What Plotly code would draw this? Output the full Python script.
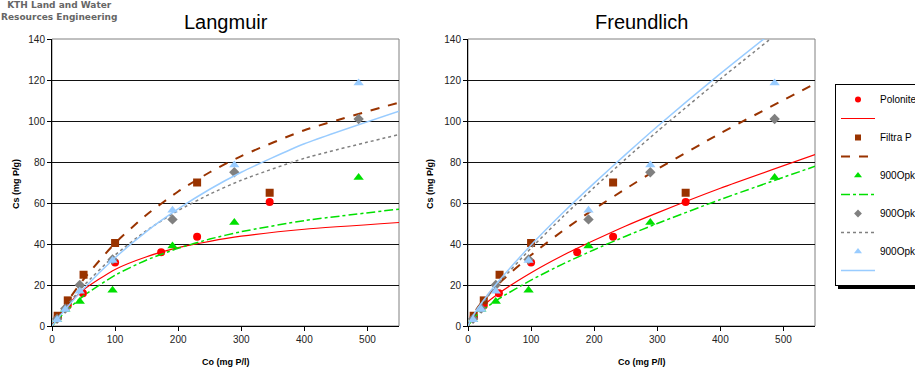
import plotly.graph_objects as go

# ---------------- data ----------------
co_pol = [9, 25, 49, 100, 173, 230, 345]
cs_pol = [4.5, 10, 16, 31, 36, 43.5, 60.5]
co_fil = [9, 25, 50, 100, 230, 345]
cs_fil = [5, 12.5, 25, 40.5, 70, 65]
co_opk = [8, 21, 44, 96, 191, 289, 486]
cs_opk_a = [3, 8, 12, 17.5, 39, 50.5, 72.5]
cs_opk_b = [3.5, 8.5, 20, 32.5, 52, 75, 101]
cs_opk_c = [3, 8, 17, 32, 56.5, 78.5, 118.5]

c_fit = [0, 10, 25, 50, 100, 150, 200, 250, 300, 400, 550]
lang_pol = [0, 4.6, 10.3, 17.7, 27.6, 33.8, 38.2, 41.3, 43.8, 47.2, 50.5]
lang_fil = [0, 5.1, 12.2, 22.8, 40.4, 54.3, 65.6, 75.0, 82.9, 95.5, 109.0]
lang_opk_a = [0, 3.4, 8.1, 14.7, 24.8, 32.2, 37.9, 42.4, 46.0, 51.4, 57.0]
lang_opk_b = [0, 4.4, 10.5, 19.6, 34.6, 46.6, 56.3, 64.3, 71.1, 81.8, 93.4]
lang_opk_c = [0, 3.9, 9.5, 18.2, 33.3, 46.2, 57.1, 66.7, 75.0, 88.9, 104.8]

freu_pol = [0, 5.4, 10.1, 16.2, 26.0, 34.4, 41.8, 48.8, 55.2, 67.2, 83.6]
freu_fil = [0, 6.6, 12.8, 21.0, 34.6, 46.4, 57.1, 66.9, 76.5, 94.0, 118.2]
freu_opk_a = [0, 4.2, 8.2, 13.5, 22.4, 30.2, 37.2, 43.8, 50.0, 61.7, 77.9]
freu_opk_b = [0, 5.6, 11.9, 21.3, 38.0, 53.2, 67.6, 81.5, 94.9, 120.5, 157.3]
freu_opk_c = [0, 6.0, 12.7, 22.4, 39.5, 55.1, 69.7, 83.7, 97.3, 123.1, 159.8]

names = ["Polonite", "Filtra P", "900Opk", "900Opk", "900Opk"]
colors = ["#FF0000", "#993300", "#00E000", "#808080", "#99CCFF"]
symbols = ["circle", "square", "triangle-up", "diamond", "triangle-up"]
msizes = [8, 8, 9, 8, 9]
legsizes = [6, 6, 7, 6, 7]
dashes = ["solid", "dash", "dashdot", "dot", "solid"]
lwidths = [1.2, 2, 1.5, 1.5, 1.5]

points = [(co_pol, cs_pol), (co_fil, cs_fil), (co_opk, cs_opk_a), (co_opk, cs_opk_b), (co_opk, cs_opk_c)]
lang = [lang_pol, lang_fil, lang_opk_a, lang_opk_b, lang_opk_c]
freu = [freu_pol, freu_fil, freu_opk_a, freu_opk_b, freu_opk_c]

FONT = "Liberation Sans, Arial, sans-serif"
W, H = 915, 372
PAD = "\u00a0" * 14  # legend box runs past the right edge of the picture

fig = go.Figure()
for ax, fits in (("", lang), ("2", freu)):
    for i in range(5):
        xs, ys = points[i]
        fig.add_trace(go.Scatter(
            x=xs, y=ys, mode="markers", name=names[i],
            marker=dict(symbol=symbols[i], size=msizes[i], color=colors[i]),
            xaxis="x" + ax, yaxis="y" + ax, showlegend=False))
        fig.add_trace(go.Scatter(
            x=c_fit, y=fits[i], mode="lines", name="",
            line=dict(color=colors[i], dash=dashes[i], width=lwidths[i], shape="spline", smoothing=0.6),
            xaxis="x" + ax, yaxis="y" + ax, showlegend=False))

# legend entries (empty traces, smaller symbols as in the reference legend)
for i in range(5):
    fig.add_trace(go.Scatter(x=[None], y=[None], mode="markers", name=names[i] + PAD,
                             marker=dict(symbol=symbols[i], size=legsizes[i], color=colors[i]),
                             showlegend=True, legendrank=2 * i + 1))
    fig.add_trace(go.Scatter(x=[None], y=[None], mode="lines", name="",
                             line=dict(color=colors[i], dash=dashes[i], width=lwidths[i]),
                             showlegend=True, legendrank=2 * i + 2))

def px_x(p):
    return p / W

def px_y(p):
    return (H - p) / H

ydom = [px_y(326), px_y(39)]
xdom1 = [px_x(52), px_x(399)]
xdom2 = [px_x(468), px_x(815)]

axis_common = dict(showline=True, linecolor="black", linewidth=1, ticks="outside",
                   ticklen=4, tickcolor="black", tickfont=dict(family=FONT, size=10, color="#222"),
                   zeroline=False)
xcommon = dict(axis_common, range=[0, 550], tickvals=[0, 100, 200, 300, 400, 500], showgrid=False)
ycommon = dict(axis_common, range=[0, 140], tickvals=[0, 20, 40, 60, 80, 100, 120, 140],
               showgrid=True, gridcolor="#111", gridwidth=1)

LEG_TOP = 84
LEG_H = 202

fig.update_layout(
    width=W, height=H,
    margin=dict(l=0, r=0, t=0, b=0, autoexpand=False),
    paper_bgcolor="white", plot_bgcolor="white",
    xaxis=dict(xcommon, domain=xdom1, anchor="y"),
    yaxis=dict(ycommon, domain=ydom, anchor="x"),
    xaxis2=dict(xcommon, domain=xdom2, anchor="y2"),
    yaxis2=dict(ycommon, domain=ydom, anchor="x2"),
    legend=dict(x=px_x(835), y=px_y(LEG_TOP), xanchor="left", yanchor="top",
                bgcolor="white", bordercolor="black", borderwidth=1,
                font=dict(family=FONT, size=10, color="black"),
                itemwidth=34, tracegroupgap=0, traceorder="normal"),
    showlegend=True,
)

shapes = []
for xd in (xdom1, xdom2):
    shapes.append(dict(type="rect", xref="paper", yref="paper", x0=xd[0], x1=xd[1],
                       y0=ydom[0], y1=ydom[1], line=dict(color="#808080", width=1),
                       fillcolor="rgba(0,0,0,0)", layer="below"))
# legend drop shadow
shapes.append(dict(type="rect", xref="paper", yref="paper", x0=px_x(838), x1=px_x(940),
                   y0=px_y(LEG_TOP + LEG_H + 3), y1=px_y(LEG_TOP + 3),
                   line=dict(width=0), fillcolor="black", layer="below"))
fig.update_layout(shapes=shapes)

ann = []
ann.append(dict(text="<b>KTH Land and Water<br>Resources Engineering</b>", x=px_x(59), y=px_y(11),
                xref="paper", yref="paper", xanchor="center", yanchor="middle", align="center",
                showarrow=False, font=dict(family="DejaVu Sans, sans-serif", size=9, color="#666")))
for title, xd, ylab_x in (("Langmuir", xdom1, 16), ("Freundlich", xdom2, 430)):
    cx = (xd[0] + xd[1]) / 2
    ann.append(dict(text=title, x=cx, y=px_y(22), xref="paper", yref="paper",
                    xanchor="center", yanchor="middle", showarrow=False,
                    font=dict(family=FONT, size=20, color="black")))
    ann.append(dict(text="<b>Co (mg P/l)</b>", x=cx, y=px_y(362), xref="paper", yref="paper",
                    xanchor="center", yanchor="middle", showarrow=False,
                    font=dict(family=FONT, size=9, color="black")))
    ann.append(dict(text="<b>Cs (mg P/g)</b>", x=px_x(ylab_x), y=px_y(184), xref="paper", yref="paper",
                    xanchor="center", yanchor="middle", showarrow=False, textangle=-90,
                    font=dict(family=FONT, size=9, color="black")))
fig.update_layout(annotations=ann)

fig.write_html("out.html", config={"displayModeBar": False},
               post_script="document.body.style.margin='0px';document.body.style.overflow='hidden';")
